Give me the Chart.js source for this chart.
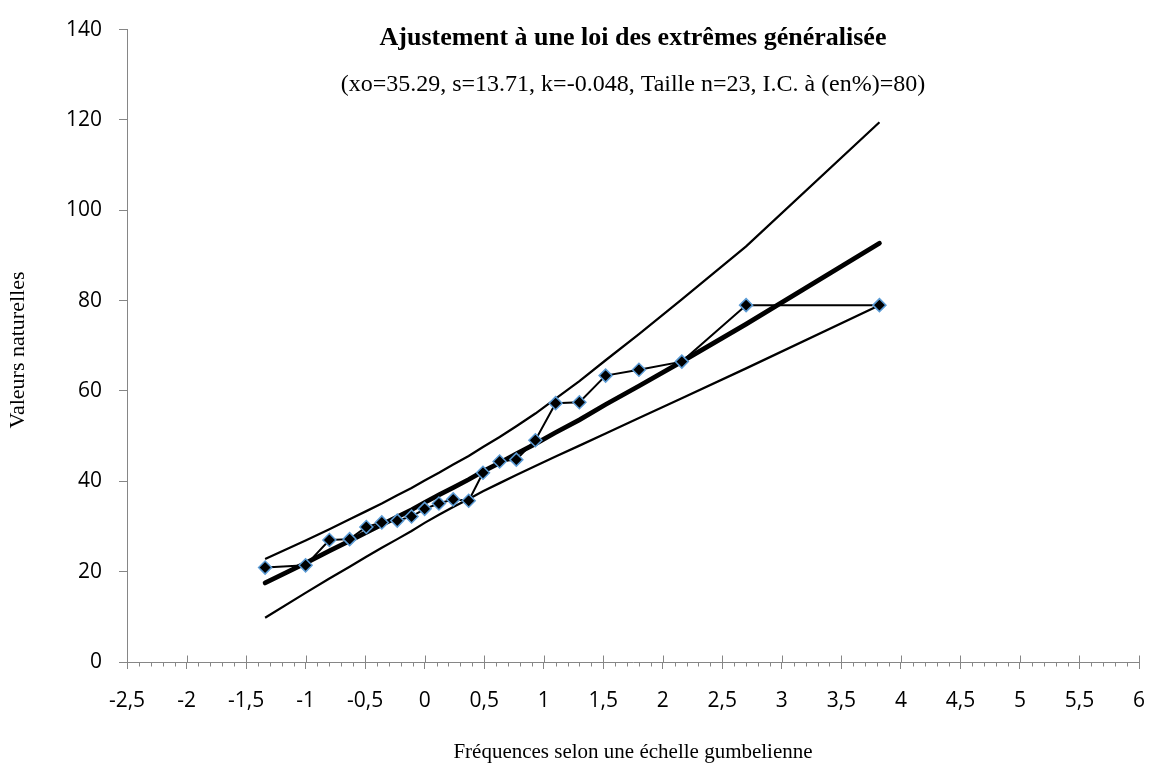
<!DOCTYPE html>
<html lang="fr">
<head>
<meta charset="utf-8">
<title>Ajustement GEV</title>
<script src="https://cdn.jsdelivr.net/npm/chart.js@4/dist/chart.umd.min.js"></script>
<style>
    html, body { margin: 0; padding: 0; background: #ffffff; }
    #cadre { width: 1155px; height: 767px; }
</style>
</head>
<body>
<div id="cadre"><canvas id="graphique" width="1155" height="767"></canvas></div>
<script>
// --- DONNÉES ---
const frequences = [-1.34, -1.00, -0.80, -0.63, -0.49, -0.36, -0.23, -0.11, 0.00, 0.12, 0.24, 0.37, 0.49, 0.63, 0.77, 0.93, 1.10, 1.30, 1.52, 1.80, 2.16, 2.70, 3.82];
const valeursObservees = [20.9, 21.4, 27.0, 27.2, 29.9, 30.9, 31.3, 32.2, 33.9, 35.1, 36.0, 35.7, 41.9, 44.4, 44.8, 49.1, 57.3, 57.5, 63.4, 64.7, 66.5, 79.0, 79.0];
const valeursAjustees = [17.5, 21.9, 24.6, 26.8, 28.7, 30.4, 32.1, 33.7, 35.3, 37.0, 38.6, 40.4, 42.2, 44.1, 46.1, 48.3, 50.8, 53.6, 57.0, 61.1, 66.5, 74.8, 92.7];
const borneSuperieure = [22.8, 26.9, 29.4, 31.6, 33.4, 35.1, 36.9, 38.5, 40.2, 41.9, 43.7, 45.6, 47.6, 49.8, 52.2, 55.0, 58.3, 62.2, 66.8, 72.6, 80.3, 92.0, 119.5];
const borneInferieure = [9.8, 15.3, 18.5, 21.1, 23.3, 25.3, 27.2, 29.0, 30.8, 32.6, 34.3, 36.1, 37.8, 39.6, 41.4, 43.4, 45.5, 47.9, 50.6, 54.0, 58.4, 65.0, 79.0];

const graduationsX = [-2.5, -2, -1.5, -1, -0.5, 0, 0.5, 1, 1.5, 2, 2.5, 3, 3.5, 4, 4.5, 5, 5.5, 6];
const graduationsY = [0, 20, 40, 60, 80, 100, 120, 140];

const titre = 'Ajustement à une loi des extrêmes généralisée';
const sousTitre = '(xo=35.29, s=13.71, k=-0.048, Taille n=23, I.C. à (en%)=80)';
const titreX = 'Fréquences selon une échelle gumbelienne';
const titreY = 'Valeurs naturelles';

document.addEventListener('DOMContentLoaded', () => {

    const couleurAxe = '#868686';
    const policeSerif = '"Liberation Serif", "Times New Roman", serif';

    function points(ys) {
        return frequences.map((x, i) => ({ x: x, y: ys[i] }));
    }

    // --- petites graduations de l'axe X (style Excel) ---
    const grainsAxe = {
        id: 'grainsAxe',
        beforeDatasetsDraw(chart) {
            const { ctx, scales: { x, y } } = chart;
            const y0 = Math.round(y.getPixelForValue(0)) + 0.5;
            ctx.save();
            ctx.strokeStyle = couleurAxe;
            ctx.lineWidth = 1;
            ctx.beginPath();
            for (let i = -25; i <= 60; i++) {
                const px = Math.round(x.getPixelForValue(i / 10)) + 0.5;
                if (i % 5 === 0) {
                    ctx.moveTo(px, y0 - 7);
                    ctx.lineTo(px, y0);
                } else {
                    ctx.moveTo(px, y0);
                    ctx.lineTo(px, y0 + 4);
                }
            }
            ctx.stroke();
            ctx.restore();
        }
    };

    // --- titres ---
    const textes = {
        id: 'textes',
        afterDraw(chart) {
            const { ctx, chartArea } = chart;
            const cx = (chartArea.left + chartArea.right) / 2;
            ctx.save();
            ctx.fillStyle = '#000000';
            ctx.textAlign = 'center';
            ctx.textBaseline = 'middle';
            ctx.font = 'bold 26px ' + policeSerif;
            ctx.fillText(titre, cx, 38);
            ctx.font = '24px ' + policeSerif;
            ctx.fillText(sousTitre, cx, 85);
            ctx.font = '21px ' + policeSerif;
            ctx.fillText(titreX, cx, 752);
            ctx.font = '22px ' + policeSerif;
            ctx.translate(18, 350);
            ctx.rotate(-Math.PI / 2);
            ctx.fillText(titreY, 0, 0);
            ctx.restore();
        }
    };

    const ctxGraphique = document.getElementById('graphique').getContext('2d');
    new Chart(ctxGraphique, {
        type: 'scatter',
        data: {
            datasets: [
                {
                    label: 'Observations',
                    data: points(valeursObservees),
                    showLine: true,
                    borderColor: '#000000',
                    borderWidth: 2,
                    pointStyle: 'rectRot',
                    pointRadius: 6.5,
                    pointBackgroundColor: '#000000',
                    pointBorderColor: '#5b9bd5',
                    pointBorderWidth: 1.5,
                    order: 0
                },
                {
                    label: 'Loi ajustée',
                    data: points(valeursAjustees),
                    showLine: true,
                    borderColor: '#000000',
                    borderWidth: 4.75,
                    borderCapStyle: 'round',
                    pointRadius: 0,
                    order: 1
                },
                {
                    label: 'Borne supérieure',
                    data: points(borneSuperieure),
                    showLine: true,
                    borderColor: '#000000',
                    borderWidth: 2.25,
                    pointRadius: 0,
                    order: 2
                },
                {
                    label: 'Borne inférieure',
                    data: points(borneInferieure),
                    showLine: true,
                    borderColor: '#000000',
                    borderWidth: 2.25,
                    pointRadius: 0,
                    order: 3
                }
            ]
        },
        options: {
            responsive: false,
            animation: false,
            events: [],
            layout: { padding: { top: 25, right: 16, left: 0, bottom: 0 } },
            plugins: { legend: { display: false }, tooltip: { enabled: false } },
            scales: {
                x: {
                    type: 'linear',
                    min: -2.5,
                    max: 6,
                    afterBuildTicks: (s) => { s.ticks = graduationsX.map(v => ({ value: v })); },
                    afterFit: (s) => { s.height = 105; s.paddingLeft = 0; s.paddingRight = 0; },
                    grid: { display: true, drawOnChartArea: false, drawTicks: true, tickLength: 7, color: couleurAxe },
                    border: { display: true, color: couleurAxe, width: 1 },
                    ticks: {
                        autoSkip: false,
                        maxRotation: 0,
                        padding: 19,
                        color: '#000000',
                        font: { family: '"Open Sans"', size: 21 },
                        callback: (v) => String(v).replace('.', ',')
                    }
                },
                y: {
                    type: 'linear',
                    min: 0,
                    max: 140,
                    afterBuildTicks: (s) => { s.ticks = graduationsY.map(v => ({ value: v })); },
                    afterFit: (s) => { s.width = 127; },
                    grid: { display: true, drawOnChartArea: false, drawTicks: true, tickLength: 8, color: couleurAxe },
                    border: { display: true, color: couleurAxe, width: 1 },
                    ticks: {
                        padding: 17,
                        color: '#000000',
                        font: { family: '"Open Sans"', size: 21 }
                    }
                }
            }
        },
        plugins: [grainsAxe, textes]
    });
});
</script>
</body>
</html>
